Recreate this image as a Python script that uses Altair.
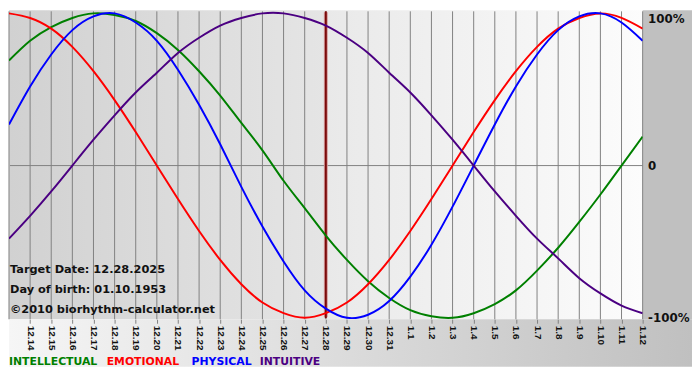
import altair as alt
import pandas as pd

# ---- data ----
dates = ["12.13", "12.14", "12.15", "12.16", "12.17", "12.18", "12.19", "12.20",
         "12.21", "12.22", "12.23", "12.24", "12.25", "12.26", "12.27", "12.28",
         "12.29", "12.30", "12.31", "1.1", "1.2", "1.3", "1.4", "1.5", "1.6",
         "1.7", "1.8", "1.9", "1.10", "1.11", "1.12"]
target_date = "12.28"

intellectual = [0.69, 0.82, 0.91, 0.97, 1.00, 0.99, 0.95, 0.87, 0.76, 0.62, 0.46,
                0.28, 0.10, -0.10, -0.28, -0.46, -0.62, -0.76, -0.87, -0.95, -0.99,
                -1.00, -0.97, -0.91, -0.82, -0.69, -0.54, -0.37, -0.19, 0.00, 0.19]
emotional = [1.00, 0.97, 0.90, 0.78, 0.62, 0.43, 0.22, 0.00, -0.22, -0.43, -0.62,
             -0.78, -0.90, -0.97, -1.00, -0.97, -0.90, -0.78, -0.62, -0.43, -0.22,
             0.00, 0.22, 0.43, 0.62, 0.78, 0.90, 0.97, 1.00, 0.97, 0.90]
physical = [0.27, 0.52, 0.73, 0.89, 0.98, 1.00, 0.94, 0.82, 0.63, 0.40, 0.14,
            -0.14, -0.40, -0.63, -0.82, -0.94, -1.00, -0.98, -0.89, -0.73, -0.52,
            -0.27, 0.00, 0.27, 0.52, 0.73, 0.89, 0.98, 1.00, 0.94, 0.82]
intuitive = [-0.48, -0.33, -0.17, 0.00, 0.17, 0.33, 0.48, 0.61, 0.74, 0.84, 0.92,
             0.97, 1.00, 1.00, 0.97, 0.92, 0.84, 0.74, 0.61, 0.48, 0.33, 0.17,
             0.00, -0.17, -0.33, -0.48, -0.61, -0.74, -0.84, -0.92, -0.97]

series_names = ["INTELLECTUAL", "EMOTIONAL", "PHYSICAL", "INTUITIVE"]
series_colors = ["#008000", "#ff0000", "#0000ff", "#4b0082"]
info_lines = ["Target Date: 12.28.2025", "Day of birth: 01.10.1953",
              "\u00a92010 biorhythm-calculator.net"]

# ---- tables ----
days = list(range(len(dates)))
t_idx = dates.index(target_date)
rows = []
for name, vals in zip(series_names, [intellectual, emotional, physical, intuitive]):
    for d, v in zip(days, vals):
        rows.append({"day": d, "value": v, "series": name})
df_lines = pd.DataFrame(rows)
df_days = pd.DataFrame({"day": days})
one = pd.DataFrame({"k": [0]})

W, H = 642, 313
FONT = "DejaVu Sans"

date_arr = "[" + ",".join("'%s'" % s for s in dates) + "]"
xscale = alt.Scale(domain=[0, len(dates) - 1], nice=False, zero=False)
yscale = alt.Scale(domain=[-1.01, 1.02], nice=False, zero=False)
xaxis = alt.Axis(values=days[1:], labelExpr="%s[datum.value]" % date_arr,
                 labelAngle=90, labelFont="Liberation Sans", labelFontWeight="bold",
                 labelFontSize=10, labelColor="#111111", labelPadding=2,
                 tickColor="#808080", tickSize=4, tickWidth=1, domain=False,
                 grid=False, title=None, zindex=1, labelOverlap=False)
yaxis = alt.Axis(orient="right", values=[-1, 0, 1],
                 labelExpr="datum.value == 0 ? '0' : (datum.value > 0 ? '100%' : '-100%')",
                 labelFont=FONT, labelFontWeight="bold", labelFontSize=12,
                 labelColor="#111111", labelPadding=5, ticks=False, domain=False,
                 grid=False, title=None, zindex=1,
                 labelBaseline={"condition": {"test": "datum.value == 1", "value": "top"},
                                "value": "middle"})

def grad(c0, c1):
    return alt.Gradient(gradient="linear",
                        stops=[alt.GradientStop(color=c0, offset=0),
                               alt.GradientStop(color=c1, offset=1)],
                        x1=0, x2=1, y1=0, y2=0)

left_bg = alt.Chart(pd.DataFrame({"start": [0], "end": [t_idx]})).mark_rect(
    fill=grad("#d1d1d1", "#e5e5e5")).encode(
    x=alt.X("start:Q", scale=xscale, axis=xaxis), x2="end:Q",
    y=alt.value(0), y2=alt.value(H))
right_bg = alt.Chart(pd.DataFrame({"start": [t_idx], "end": [len(dates) - 1]})).mark_rect(
    fill=grad("#e9e9e9", "#fcfcfc")).encode(
    x=alt.X("start:Q", scale=xscale, axis=xaxis), x2="end:Q",
    y=alt.value(0), y2=alt.value(H))

right_strip = alt.Chart(one).mark_rect(fill="#c0c0c0", clip=False).encode(
    x=alt.value(W), x2=alt.value(W + 50), y=alt.value(0), y2=alt.value(H))
bottom_strip = alt.Chart(one).mark_rect(fill=grad("#f6f6f6", "#c0c0c0"), clip=False).encode(
    x=alt.value(0), x2=alt.value(W + 50), y=alt.value(H), y2=alt.value(H + 48))

grid = alt.Chart(df_days).mark_rule(color="#808080", strokeWidth=1).encode(
    x=alt.X("day:Q", scale=xscale, axis=xaxis), y=alt.value(1), y2=alt.value(H))
zero = alt.Chart(pd.DataFrame({"v": [0]})).mark_rule(color="#808080", strokeWidth=1).encode(
    y=alt.Y("v:Q", scale=yscale, axis=yaxis), x=alt.value(1), x2=alt.value(W))

tdf = pd.DataFrame({"day": [t_idx]})
target_halo = alt.Chart(tdf).mark_rule(color="#d49a9a", strokeWidth=4).encode(
    x=alt.X("day:Q", scale=xscale, axis=xaxis), y=alt.value(2), y2=alt.value(H - 2))
target_line = alt.Chart(tdf).mark_rule(color="#7a0a0a", strokeWidth=2).encode(
    x=alt.X("day:Q", scale=xscale, axis=xaxis), y=alt.value(1), y2=alt.value(H - 1))

lines = alt.Chart(df_lines).mark_line(strokeWidth=2, interpolate="natural", clip=True).encode(
    x=alt.X("day:Q", scale=xscale, axis=xaxis),
    y=alt.Y("value:Q", scale=yscale, axis=yaxis),
    color=alt.Color("series:N", scale=alt.Scale(domain=series_names, range=series_colors),
                    legend=None))

info_y = [263, 283, 304]
info = [alt.Chart(one).mark_text(text=t, font=FONT, fontWeight="bold", fontSize=11.5,
                                 color="#111111", align="left", baseline="middle").encode(
            x=alt.value(1), y=alt.value(yy)) for t, yy in zip(info_lines, info_y)]

legend_x = [0, 99, 185, 254]
legend = [alt.Chart(one).mark_text(text=n, font=FONT, fontWeight="bold", fontSize=11,
                                   color=c, align="left", baseline="middle", clip=False).encode(
              x=alt.value(xx), y=alt.value(H + 43))
          for n, c, xx in zip(series_names, series_colors, legend_x)]

chart = alt.layer(left_bg, right_bg, right_strip, bottom_strip, grid, zero,
                  target_halo, target_line, lines, *info, *legend).properties(
    width=W, height=H, padding=0, background="white"
).configure_view(stroke=None)

chart.save("out.html", embed_options={"renderer": "svg", "actions": False})
